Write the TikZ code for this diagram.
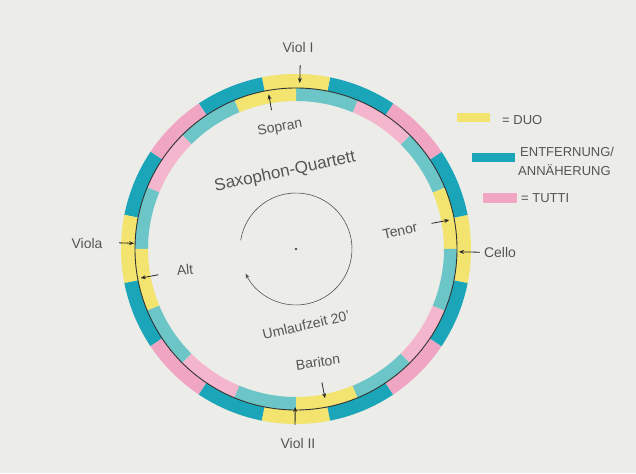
\documentclass[tikz,border=0pt]{standalone}
\usepackage{fontspec}
\setmainfont{Liberation Sans}
\usetikzlibrary{arrows.meta}

\definecolor{papier}{RGB}{236,236,233}
\definecolor{duo}{RGB}{243,228,112}
\definecolor{entf}{RGB}{26,166,184}
\definecolor{entfhell}{RGB}{108,198,200}
\definecolor{tutti}{RGB}{240,166,194}
\definecolor{tuttihell}{RGB}{243,182,204}
\definecolor{stift}{RGB}{85,85,85}

% ein Ringstueck zwischen zwei Winkeln und zwei Radien
\newcommand{\bandseg}[5]{%
  \fill[#1] (#2:#4) arc[start angle=#2, end angle=#3, radius=#4]
    -- (#3:#5) arc[start angle=#3, end angle=#2, radius=#5] -- cycle;}

\begin{document}
\begin{tikzpicture}[x=1pt, y=1pt, >=stealth,
    lbl/.style={text=stift, font=\fontsize{14}{16}\selectfont, inner sep=0pt},
    leg/.style={text=stift, font=\fontsize{13}{15}\selectfont, anchor=west, inner sep=0pt},
    pfeil/.style={-{Stealth[length=5pt, width=4pt]}, line width=0.8pt, draw=black!85}]

    % Papier und Rahmen
    \fill[papier] (-296,-224) rectangle (340,249);
    \useasboundingbox (-296,-224) rectangle (340,249);

    % aeusserer Ring (Streicher): Duo - Entfernung - Tutti - Entfernung
    \foreach \a in {0,90,180,270} {
      \pgfmathsetmacro{\pA}{\a-11.25}
      \pgfmathsetmacro{\pB}{\a+11.25}
      \pgfmathsetmacro{\pC}{\a+33.75}
      \pgfmathsetmacro{\pD}{\a+56.25}
      \pgfmathsetmacro{\pE}{\a+78.75}
      \bandseg{duo}{\pA}{\pB}{175}{161}
      \bandseg{entf}{\pB}{\pC}{175}{161}
      \bandseg{tutti}{\pC}{\pD}{175}{161}
      \bandseg{entf}{\pD}{\pE}{175}{161}
    }

    % innerer Ring (Quartett), um ein halbes Stueck verdreht
    \foreach \a in {0,90,180,270} {
      \pgfmathsetmacro{\pA}{\a}
      \pgfmathsetmacro{\pB}{\a+22.5}
      \pgfmathsetmacro{\pC}{\a+45}
      \pgfmathsetmacro{\pD}{\a+67.5}
      \pgfmathsetmacro{\pE}{\a+90}
      \bandseg{duo}{\pA}{\pB}{161}{148}
      \bandseg{entfhell}{\pB}{\pC}{161}{148}
      \bandseg{tuttihell}{\pC}{\pD}{161}{148}
      \bandseg{entfhell}{\pD}{\pE}{161}{148}
    }

    % Trennlinie zwischen den Ringen
    \draw[line width=0.9pt, black!80] (0,0) circle[radius=161];

    % Umlauf in der Mitte
    \draw[-{Stealth[length=5pt, width=4pt]}, stift, line width=0.6pt] (171:56) arc[start angle=171, end angle=-154, radius=56];
    \fill[black!70] (0,0) circle[radius=1.3];

    % Beschriftungen
    \node[lbl] (violI) at (2,201) {Viol I};
    \node[lbl, rotate=11] (sopran) at (-16,121) {Sopran};
    \node[lbl, rotate=12, font=\fontsize{17}{19}\selectfont] (saxq) at (-11,77) {Saxophon-Quartett};
    \node[lbl, rotate=13] (tenor) at (104,18) {Tenor};
    \node[lbl] (cello) at (204,-3) {Cello};
    \node[lbl] (viola) at (-209,6) {Viola};
    \node[lbl, rotate=5] (alt) at (-111,-21) {Alt};
    \node[lbl, rotate=13] (umlauf) at (10,-76) {Umlaufzeit 20'};
    \node[lbl, rotate=8] (bariton) at (22,-113) {Bariton};
    \node[lbl] (violII) at (2,-194) {Viol II};

    % Pfeile auf die Ringe
    \coordinate (violIa) at (88.7:184);  \coordinate (violIb) at (88.7:166);
    \coordinate (sopA) at (100:141);     \coordinate (sopB) at (100:157);
    \coordinate (tenA) at (10.7:138);    \coordinate (tenB) at (10.7:156);
    \coordinate (celA) at (-1:184);      \coordinate (celB) at (-1:163);
    \coordinate (vlaA) at (178:177);     \coordinate (vlaB) at (178:162);
    \coordinate (altA) at (190.6:140);   \coordinate (altB) at (190.6:158);
    \coordinate (barA) at (-79:136);     \coordinate (barB) at (-79:152);
    \coordinate (violIIa) at (-90.3:176); \coordinate (violIIb) at (-90.3:158);
    \draw[pfeil] (violIa) -- (violIb);
    \draw[pfeil] (sopA) -- (sopB);
    \draw[pfeil] (tenA) -- (tenB);
    \draw[pfeil] (celA) -- (celB);
    \draw[pfeil] (vlaA) -- (vlaB);
    \draw[pfeil] (altA) -- (altB);
    \draw[pfeil] (barA) -- (barB);
    \draw[pfeil] (violIIa) -- (violIIb);

    % Legende
    \fill[duo] (161,127) rectangle (194,136);
    \node[leg] (lduo) at (206,129) {= DUO};
    \fill[entf] (176,87) rectangle (219,96);
    \node[leg] (lentf) at (224,97) {ENTFERNUNG/};
    \node[leg] (lann) at (222,79) {ANNÄHERUNG};
    \fill[tutti] (187,46) rectangle (221,56);
    \node[leg] (ltutti) at (225,51) {= TUTTI};
\end{tikzpicture}
\end{document}
